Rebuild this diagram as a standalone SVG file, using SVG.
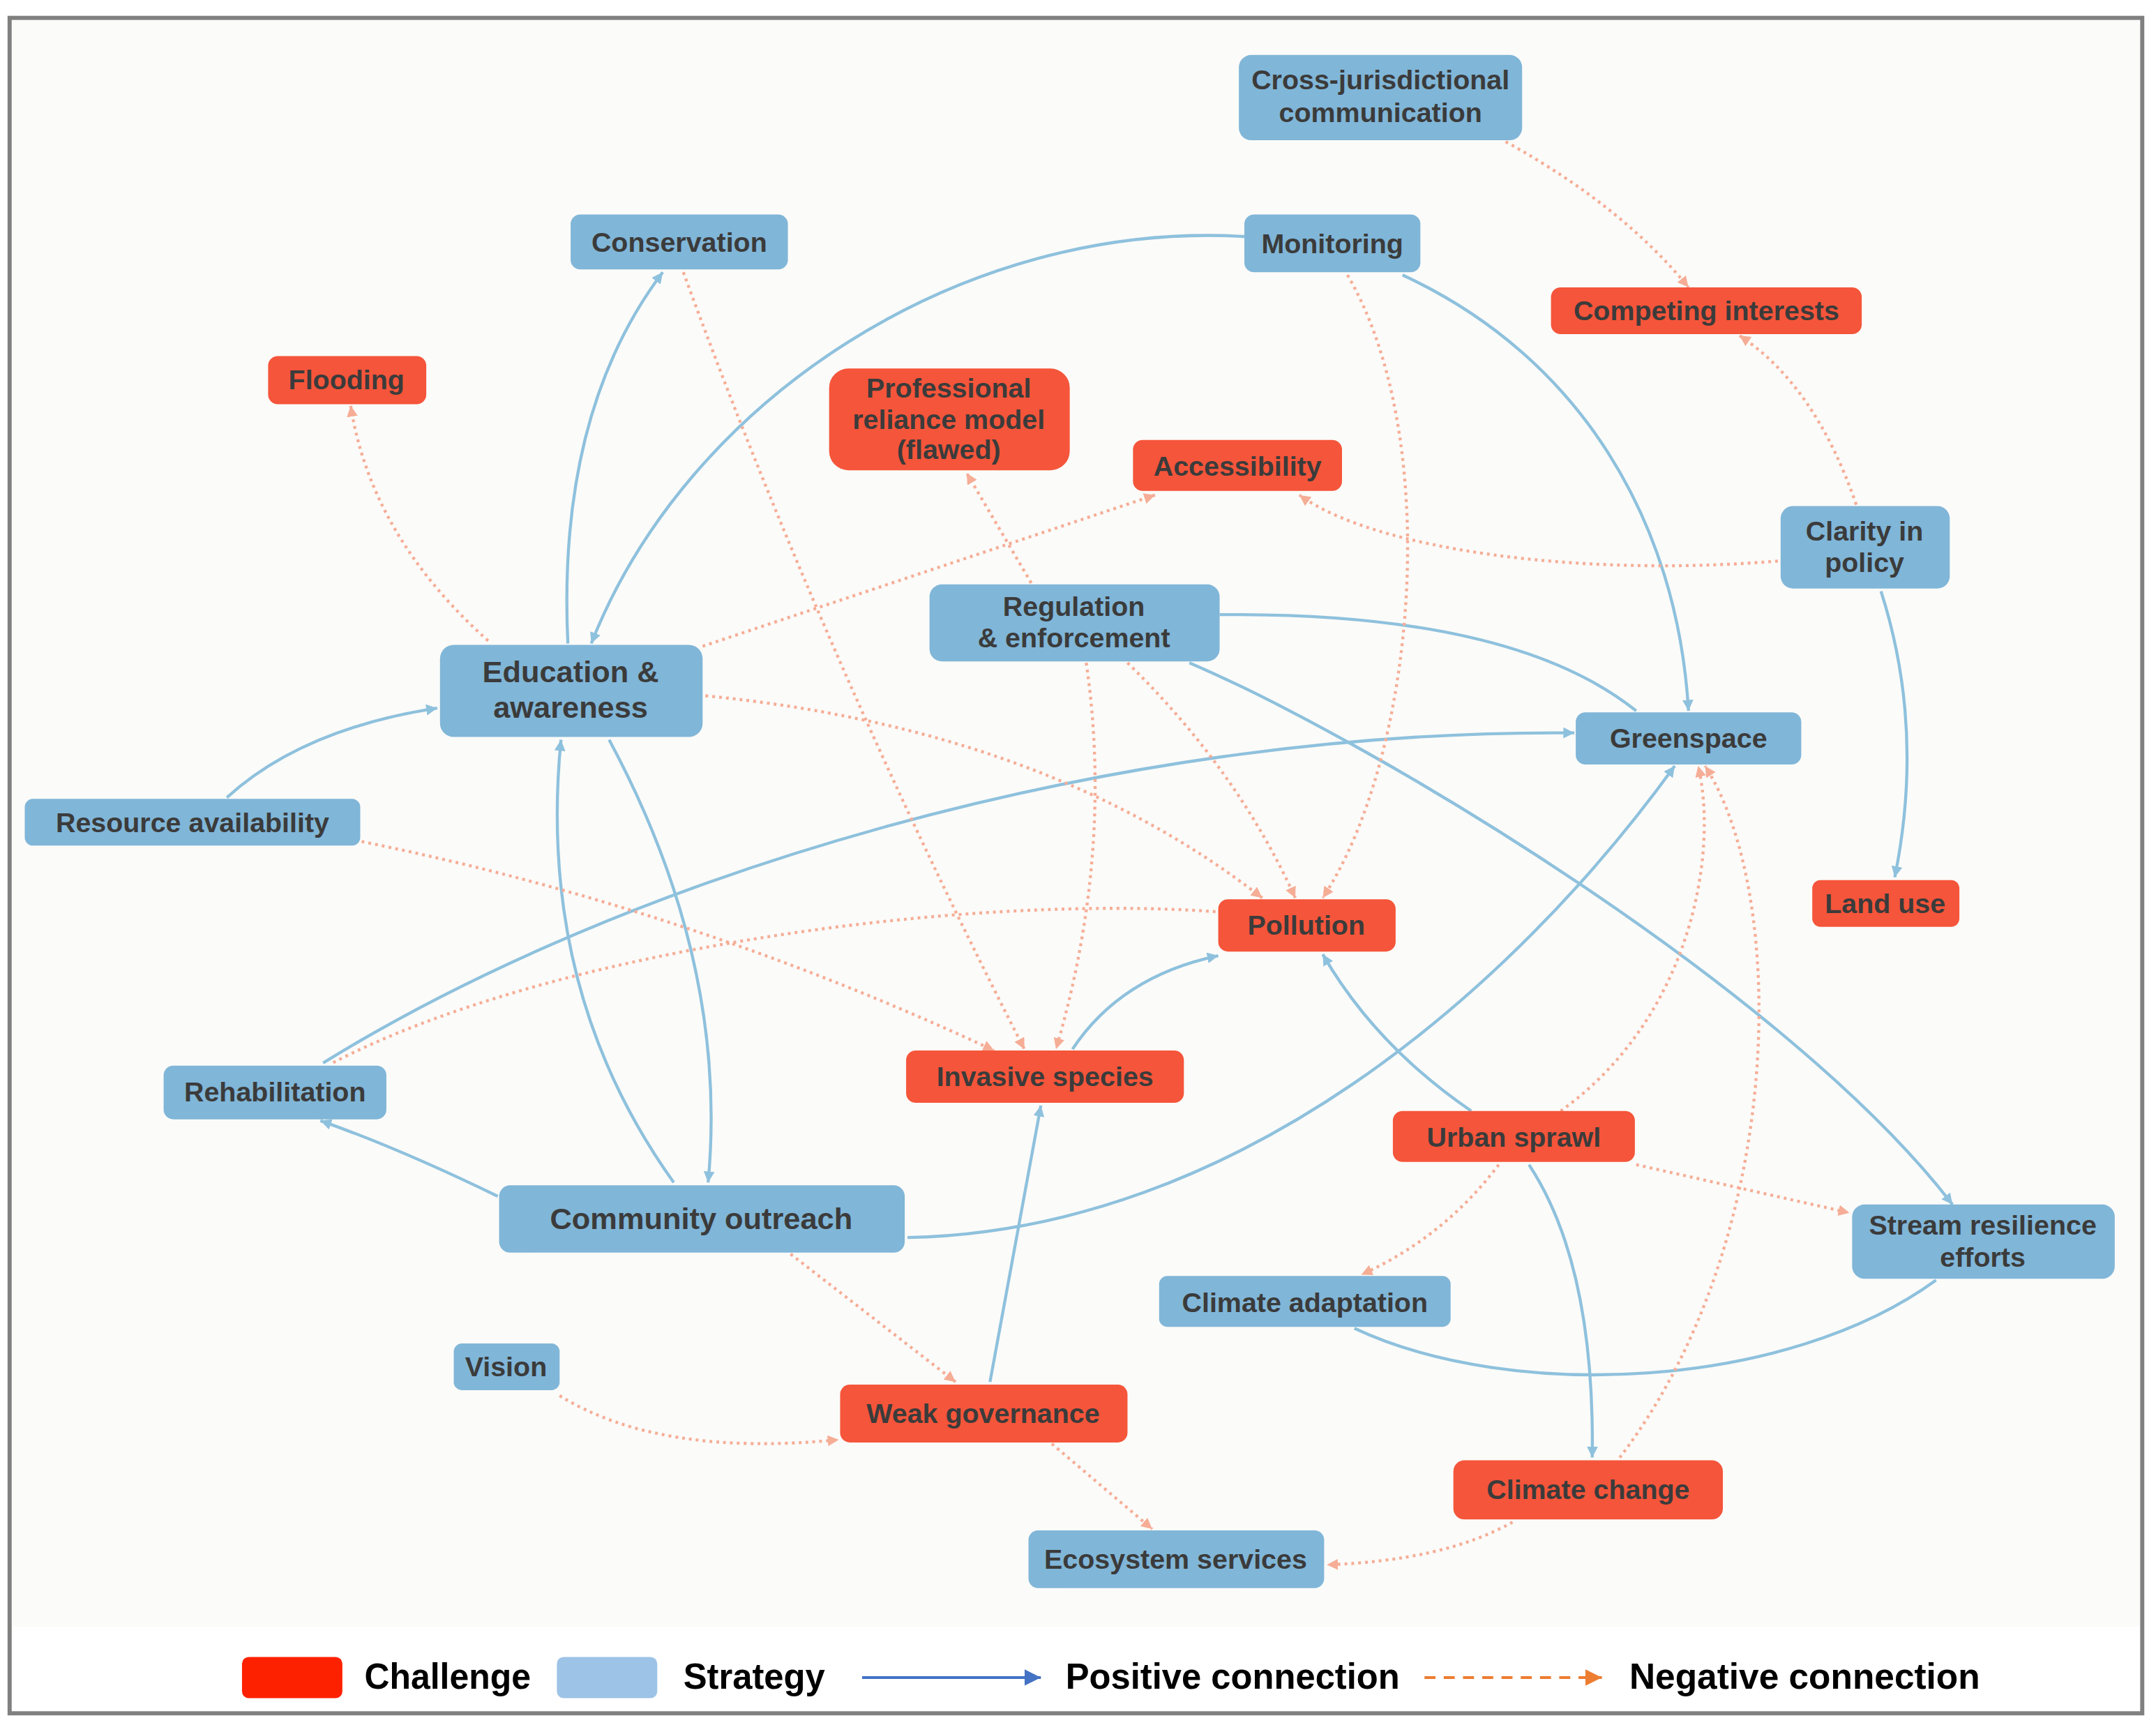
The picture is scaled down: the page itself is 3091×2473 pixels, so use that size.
<svg xmlns="http://www.w3.org/2000/svg" width="3091" height="2473" viewBox="0 0 3091 2473">
<style>
.s rect{fill:#80b6d8}
.c rect{fill:#f5553a}
.n text{font-family:"Liberation Sans",Arial,sans-serif;font-weight:bold;font-size:20px;fill:#3b3b3b;text-anchor:middle}
.p{fill:none;stroke:#8ec1dd;stroke-width:2.2}
.ng{fill:none;stroke:#f6ad96;stroke-width:2.2;stroke-dasharray:2 3}
.lg{font-family:"Liberation Sans",Arial,sans-serif;font-weight:bold;font-size:26px;fill:#000}
</style>
<defs>
<marker id="ap" markerUnits="userSpaceOnUse" markerWidth="10" markerHeight="10" refX="8" refY="4" orient="auto"><path d="M0,0 L8,4 L0,8 z" fill="#8ec1dd"/></marker>
<marker id="an" markerUnits="userSpaceOnUse" markerWidth="10" markerHeight="10" refX="8" refY="4" orient="auto"><path d="M0,0 L8,4 L0,8 z" fill="#f6ad96"/></marker>
<marker id="lb" markerUnits="userSpaceOnUse" markerWidth="14" markerHeight="14" refX="12" refY="6" orient="auto"><path d="M0,0 L12,6 L0,12 z" fill="#4472c4"/></marker>
<marker id="lo" markerUnits="userSpaceOnUse" markerWidth="14" markerHeight="14" refX="12" refY="6" orient="auto"><path d="M0,0 L12,6 L0,12 z" fill="#ed7d31"/></marker>
</defs>
<rect width="3091" height="2473" fill="#fff"/>
<g transform="scale(1.9713)">
<rect x="7" y="13" width="1551" height="1233" fill="#fbfbf9" stroke="#808080" stroke-width="3"/>
<rect x="9" y="1183" width="1547" height="61" fill="#fff"/>
<g id="connectors">
<path class="p" marker-end="url(#ap)" d="M165,580 Q220,530 318,515"/>
<path class="p" marker-end="url(#ap)" d="M413,468 Q405,300 482,198"/>
<path class="p" marker-end="url(#ap)" d="M905,172 C700,160 500,290 430,468"/>
<path class="p" marker-end="url(#ap)" d="M1020,200 C1150,260 1220,380 1228,517"/>
<path class="p" d="M887,447 Q1100,445 1190,517"/>
<path class="p" marker-end="url(#ap)" d="M865,482 C1000,540 1300,720 1420,876"/>
<path class="p" marker-end="url(#ap)" d="M235,773 C450,640 800,530 1145,533"/>
<path class="p" marker-end="url(#ap)" d="M660,900 C900,895 1100,720 1218,557"/>
<path class="p" marker-end="url(#ap)" d="M362,870 Q290,835 233,815"/>
<path class="p" marker-end="url(#ap)" d="M490,860 Q390,720 408,538"/>
<path class="p" marker-end="url(#ap)" d="M443,538 Q530,700 515,860"/>
<path class="p" marker-end="url(#ap)" d="M780,763 Q815,710 886,695"/>
<path class="p" marker-end="url(#ap)" d="M720,1005 L757,804"/>
<path class="p" marker-end="url(#ap)" d="M1070,808 Q1000,760 962,694"/>
<path class="p" marker-end="url(#ap)" d="M1112,847 Q1160,920 1158,1060"/>
<path class="p" d="M1408,931 C1300,1010 1100,1020 985,966"/>
<path class="p" marker-end="url(#ap)" d="M1368,430 Q1400,530 1378,638"/>
<path class="ng" marker-end="url(#an)" d="M1095,103 Q1180,150 1228,209"/>
<path class="ng" marker-end="url(#an)" d="M1350,367 Q1320,280 1265,244"/>
<path class="ng" marker-end="url(#an)" d="M1293,408 C1150,420 1000,400 945,360"/>
<path class="ng" marker-end="url(#an)" d="M511,470 L840,360"/>
<path class="ng" marker-end="url(#an)" d="M355,466 Q270,390 255,295"/>
<path class="ng" marker-end="url(#an)" d="M750,424 L703,344"/>
<path class="ng" marker-end="url(#an)" d="M497,198 Q600,480 745,763"/>
<path class="ng" marker-end="url(#an)" d="M980,200 C1050,320 1030,550 962,653"/>
<path class="ng" marker-end="url(#an)" d="M790,482 Q810,620 768,763"/>
<path class="ng" marker-end="url(#an)" d="M820,482 Q900,560 942,653"/>
<path class="ng" marker-end="url(#an)" d="M513,506 Q760,530 918,653"/>
<path class="ng" marker-end="url(#an)" d="M263,612 Q500,660 723,764"/>
<path class="ng" d="M884,663 C700,650 400,690 240,774"/>
<path class="ng" marker-end="url(#an)" d="M1135,808 C1230,740 1250,620 1235,557"/>
<path class="ng" marker-end="url(#an)" d="M1178,1060 C1300,900 1300,650 1240,557"/>
<path class="ng" marker-end="url(#an)" d="M1190,847 L1345,882"/>
<path class="ng" marker-end="url(#an)" d="M1090,847 Q1050,900 990,927"/>
<path class="ng" marker-end="url(#an)" d="M1100,1107 Q1050,1135 965,1138"/>
<path class="ng" marker-end="url(#an)" d="M765,1050 L838,1112"/>
<path class="ng" marker-end="url(#an)" d="M575,912 L695,1005"/>
<path class="ng" marker-end="url(#an)" d="M407,1015 Q480,1060 610,1047"/>
</g>
<g id="n-cross" class="n s"><rect x="901" y="40" width="206" height="62" rx="9"/><text x="1004" y="65">Cross-jurisdictional</text><text x="1004" y="89">communication</text></g>
<g id="n-conservation" class="n s"><rect x="415" y="156" width="158" height="40" rx="7"/><text x="494" y="183">Conservation</text></g>
<g id="n-monitoring" class="n s"><rect x="905" y="156" width="128" height="42" rx="7"/><text x="969" y="184">Monitoring</text></g>
<g id="n-competing" class="n c"><rect x="1128" y="209" width="226" height="34" rx="7"/><text x="1241" y="233">Competing interests</text></g>
<g id="n-flooding" class="n c"><rect x="195" y="259" width="115" height="35" rx="7"/><text x="252" y="283">Flooding</text></g>
<g id="n-professional" class="n c"><rect x="603" y="268" width="175" height="74" rx="14"/><text x="690" y="289">Professional</text><text x="690" y="312">reliance model</text><text x="690" y="334">(flawed)</text></g>
<g id="n-accessibility" class="n c"><rect x="824" y="320" width="152" height="37" rx="7"/><text x="900" y="346">Accessibility</text></g>
<g id="n-clarity" class="n s"><rect x="1295" y="368" width="123" height="60" rx="9"/><text x="1356" y="393">Clarity in</text><text x="1356" y="416">policy</text></g>
<g id="n-regulation" class="n s"><rect x="676" y="425" width="211" height="56" rx="9"/><text x="781" y="448">Regulation</text><text x="781" y="471">&amp; enforcement</text></g>
<g id="n-education" class="n s"><rect x="320" y="469" width="191" height="67" rx="10"/><text x="415" y="496" style="font-size:22px">Education &amp;</text><text x="415" y="522" style="font-size:22px">awareness</text></g>
<g id="n-greenspace" class="n s"><rect x="1146" y="518" width="164" height="38" rx="7"/><text x="1228" y="544">Greenspace</text></g>
<g id="n-resource" class="n s"><rect x="18" y="581" width="244" height="34" rx="6"/><text x="140" y="605">Resource availability</text></g>
<g id="n-landuse" class="n c"><rect x="1318" y="640" width="107" height="34" rx="6"/><text x="1371" y="664">Land use</text></g>
<g id="n-pollution" class="n c"><rect x="886" y="654" width="129" height="38" rx="7"/><text x="950" y="680">Pollution</text></g>
<g id="n-invasive" class="n c"><rect x="659" y="764" width="202" height="38" rx="7"/><text x="760" y="790">Invasive species</text></g>
<g id="n-rehab" class="n s"><rect x="119" y="775" width="162" height="39" rx="7"/><text x="200" y="801">Rehabilitation</text></g>
<g id="n-sprawl" class="n c"><rect x="1013" y="808" width="176" height="37" rx="7"/><text x="1101" y="834">Urban sprawl</text></g>
<g id="n-community" class="n s"><rect x="363" y="862" width="295" height="49" rx="8"/><text x="510" y="894" style="font-size:22px">Community outreach</text></g>
<g id="n-stream" class="n s"><rect x="1347" y="876" width="191" height="54" rx="9"/><text x="1442" y="898">Stream resilience</text><text x="1442" y="921">efforts</text></g>
<g id="n-adaptation" class="n s"><rect x="843" y="928" width="212" height="37" rx="6"/><text x="949" y="954">Climate adaptation</text></g>
<g id="n-vision" class="n s"><rect x="330" y="977" width="77" height="34" rx="6"/><text x="368" y="1001">Vision</text></g>
<g id="n-weak" class="n c"><rect x="611" y="1007" width="209" height="42" rx="7"/><text x="715" y="1035">Weak governance</text></g>
<g id="n-climate" class="n c"><rect x="1057" y="1062" width="196" height="43" rx="8"/><text x="1155" y="1090">Climate change</text></g>
<g id="n-ecosystem" class="n s"><rect x="748" y="1113" width="215" height="42" rx="7"/><text x="855" y="1141">Ecosystem services</text></g>
<g id="legend">
<rect x="176" y="1205" width="73" height="30" rx="5" fill="#fe2100"/>
<text class="lg" x="265" y="1228" textLength="121" lengthAdjust="spacingAndGlyphs">Challenge</text>
<rect x="405" y="1205" width="73" height="30" rx="5" fill="#9dc3e6"/>
<text class="lg" x="497" y="1228" textLength="103" lengthAdjust="spacingAndGlyphs">Strategy</text>
<line x1="627" y1="1220" x2="757" y2="1220" stroke="#4472c4" stroke-width="2" marker-end="url(#lb)"/>
<text class="lg" x="775" y="1228" textLength="243" lengthAdjust="spacingAndGlyphs">Positive connection</text>
<line x1="1036" y1="1220" x2="1165" y2="1220" stroke="#ed7d31" stroke-width="2" stroke-dasharray="8 6" marker-end="url(#lo)"/>
<text class="lg" x="1185" y="1228" textLength="255" lengthAdjust="spacingAndGlyphs">Negative connection</text>
</g>
</g>
</svg>
